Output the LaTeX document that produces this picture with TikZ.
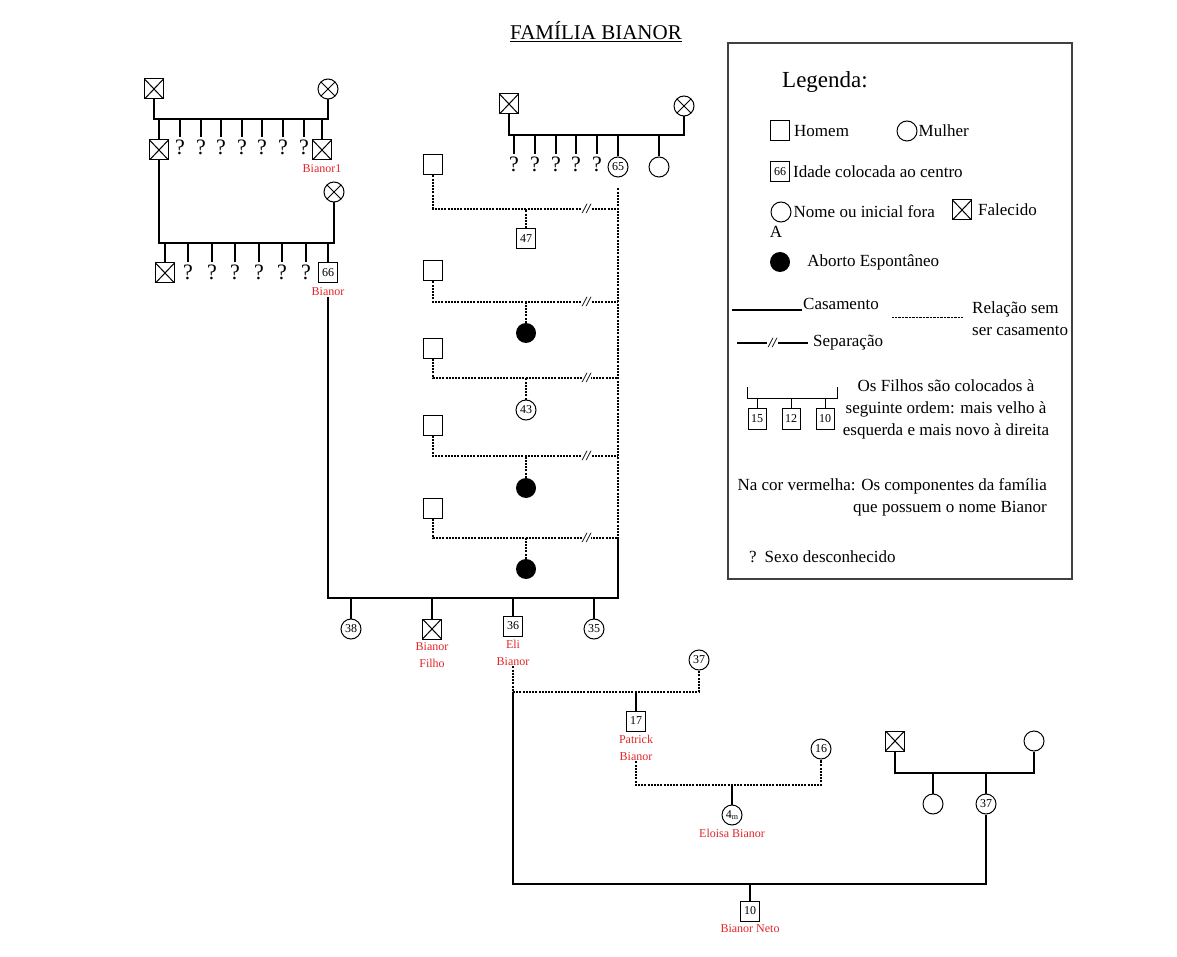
\documentclass[tikz,border=0pt]{standalone}
\usepackage{fontspec}
\setmainfont{Liberation Serif}
\usetikzlibrary{positioning,calc}
\definecolor{nomered}{RGB}{226,38,42}
\tikzset{
  homem/.style={draw,line width=1pt,minimum width=19pt,minimum height=20pt,inner sep=0pt,font=\fontsize{12}{12}\selectfont},
  mulher/.style={draw,circle,line width=1pt,minimum size=20pt,inner sep=0pt,font=\fontsize{12}{12}\selectfont},
  aborto/.style={circle,fill=black,minimum size=20pt,inner sep=0pt},
  falecido/.style={path picture={\draw (path picture bounding box.north west) -- (path picture bounding box.south east) (path picture bounding box.north east) -- (path picture bounding box.south west);}},
  falecida/.style={path picture={\draw ($(path picture bounding box.center)+(45:10pt)$) -- ($(path picture bounding box.center)+(225:10pt)$) ($(path picture bounding box.center)+(135:10pt)$) -- ($(path picture bounding box.center)+(-45:10pt)$);}},
  qm/.style={font=\fontsize{22}{22}\selectfont,inner sep=3pt,anchor=north},
  nome/.style={text=nomered,font=\fontsize{12}{17}\selectfont,align=center,inner sep=1pt},
  lig/.style={line width=1.2pt},
  rel/.style={line width=1.2pt,dash pattern=on 2pt off 1.2pt},
  sepmark/.style={fill=white,inner sep=0.8pt,font=\bfseries\itshape\fontsize{14}{14}\selectfont},
  leg/.style={font=\fontsize{17}{22}\selectfont,inner sep=1pt}
}
\begin{document}
\begin{tikzpicture}[x=1pt,y=-1pt]
\useasboundingbox (0,0) rectangle (1177,957);
\fill[white] (0,0) rectangle (1177,957);
% ---- title ----
\node[font=\fontsize{21}{21}\selectfont] (titulo) at (596,32) {\underline{FAMÍLIA BIANOR}};
% ---- bisavos (top left) ----
\node[homem,falecido] (bh) at (154,89) {};
\node[mulher,falecida] (bw) at (328,89) {};
\coordinate (bm) at (240,119);
\draw[lig] (bh) |- (bm) -| (bw);
\node[homem,falecido] (a1) at (159,150) {};
\foreach \xx [count=\i] in {180,201,221,242,262,283,304} {
  \node[qm] (aq\i) at (\xx,137) {?};
  \draw[lig] (aq\i) -- (aq\i |- bm);
}
\node[homem,falecido] (b1) at (322,150) {};
\node[nome,below=3pt of b1] (b1n) {Bianor1};
\draw[lig] (a1) -- (a1 |- bm) (b1) -- (b1 |- bm);
% ---- avos (second row) ----
\node[mulher,falecida] (cw) at (334,192) {};
\coordinate (cm) at (246,243);
\draw[lig] (a1) |- (cm) -| (cw);
\node[homem,falecido] (c1) at (165,273) {};
\foreach \xx [count=\i] in {188,212,235,259,282,306} {
  \node[qm] (cq\i) at (\xx,262) {?};
  \draw[lig] (cq\i) -- (cq\i |- cm);
}
\node[homem] (bianor) at (328,273) {66};
\node[nome,below=3pt of bianor] (bianorn) {Bianor};
\draw[lig] (c1) -- (c1 |- cm) (bianor) -- (bianor |- cm);
% ---- family of the mother ----
\node[homem,falecido] (dh) at (509,104) {};
\node[mulher,falecida] (dw) at (684,106) {};
\coordinate (dm) at (596,135);
\draw[lig] (dh) |- (dm) -| (dw);
\foreach \xx [count=\i] in {514,535,556,576,597} {
  \node[qm] (dq\i) at (\xx,154) {?};
  \draw[lig] (dq\i) -- (dq\i |- dm);
}
\node[mulher] (avo) at (618,167) {65};
\node[mulher] (dd) at (659,167) {};
\draw[lig] (avo) -- (avo |- dm) (dd) -- (dd |- dm);
% ---- relations without marriage ----
\foreach \yy/\rr [count=\i] in {165/209,271/302,348/378,425/456,508/538} {
  \node[homem] (p\i) at (433,\yy) {};
  \coordinate (r\i) at (618,\rr);
  \draw[rel] (p\i) |- (r\i) node[sepmark,pos=0.915] {//};
}
\node[homem] (f1) at (526,239) {47};
\node[aborto] (f2) at (526,333) {};
\node[mulher] (f3) at (526,410) {43};
\node[aborto] (f4) at (526,488) {};
\node[aborto] (f5) at (526,569) {};
\foreach \i in {1,...,5} \draw[rel] (f\i) -- (f\i |- r\i);
\draw[rel] ($(avo.south)+(0,11)$) -- (r5);
% ---- Bianor's children ----
\coordinate (em) at (618,598);
\draw[lig] (bianorn) |- (em) -- (r5);
\node[mulher] (g1) at (351,629) {38};
\node[homem,falecido] (g2) at (432,629) {};
\node[nome,below=2pt of g2] (g2n) {Bianor\\Filho};
\node[homem] (eli) at (513,626) {36};
\node[nome,below=2pt of eli] (elin) {Eli\\Bianor};
\node[mulher] (g4) at (594,629) {35};
\foreach \n in {g1,g2,eli,g4} \draw[lig] (\n) -- (\n |- em);
% ---- Eli and Patrick ----
\node[mulher] (pm) at (699,660) {37};
\coordinate (hm) at (636,692);
\draw[rel] (elin) |- (hm) -| (pm);
\node[homem] (patrick) at (636,721) {17};
\node[nome,below=2pt of patrick] (patrickn) {Patrick\\Bianor};
\draw[lig] (patrick) -- (hm);
\node[mulher] (mae) at (821,749) {16};
\coordinate (km) at (732,785);
\draw[rel] (patrickn) |- (km) -| (mae);
\node[mulher] (eloisa) at (732,815) {4\raisebox{-1.5pt}{\fontsize{8}{8}\selectfont m}};
\node[nome,below=2pt of eloisa] (eloisan) {Eloisa Bianor};
\draw[lig] (eloisa) -- (km);
% ---- second wife and Bianor Neto ----
\node[homem,falecido] (sh) at (895,741) {};
\node[mulher] (sw) at (1034,741) {};
\coordinate (sm) at (960,773);
\draw[lig] (sh) |- (sm) -| (sw);
\node[mulher] (s1) at (933,804) {};
\node[mulher] (nora) at (986,804) {37};
\draw[lig] (s1) -- (s1 |- sm) (nora) -- (nora |- sm);
\coordinate (nm) at (750,884);
\draw[lig] (elin |- hm) |- (nm) -| (nora);
\node[homem] (neto) at (750,911) {10};
\node[nome,below=2pt of neto] (neton) {Bianor Neto};
\draw[lig] (neto) -- (nm);
% ---- legend ----
\draw[line width=1.2pt,black!75] (728,43) rectangle (1072,579);
\node[font=\fontsize{23}{23}\selectfont] (legtit) at (825,82) {Legenda:};
\node[homem] (lh) at (780,131) {};
\node[leg,right=3pt of lh] (lht) {Homem};
\node[mulher] (lw) at (907,131) {};
\node[leg,right=0pt of lw] (lwt) {Mulher};
\node[homem] (li) at (780,172) {66};
\node[leg,right=2pt of li] (lit) {Idade colocada ao centro};
\node[mulher] (ln) at (781,212) {};
\node[leg,right=1pt of ln] (lnt) {Nome ou inicial fora};
\node[leg,below=3pt of ln,xshift=-5pt] (lna) {A};
\node[homem,falecido] (lf) at (962,210) {};
\node[leg,right=5pt of lf] (lft) {Falecido};
\node[aborto] (la) at (780,262) {};
\node[leg,right=16pt of la] (lat) {Aborto Espontâneo};
\coordinate (lc0) at (732,310);
\coordinate (lc1) at (802,310);
\draw[lig] (lc0) -- (lc1);
\node[leg,anchor=base west] (lct) at (lc1) {Casamento};
\coordinate (lr0) at (892,317);
\coordinate (lr1) at (963,317);
\draw[densely dotted] (lr0) -- (lr1);
\node[leg,align=left,anchor=north west] (lrt) at (971,301) {Relação sem\\ser casamento};
\coordinate (ls0) at (737,343);
\coordinate (ls1) at (808,343);
\draw[lig] (ls0) -- (ls1) node[sepmark,midway,inner sep=2pt] (lsm) {//};
\node[leg,anchor=base west] (lst) at (812,346) {Separação};
\draw[line width=0.8pt] (747,387) -- (747,398) -- (837,398) -- (837,387);
\foreach \xx/\ii [count=\i] in {757/15,791/12,825/10} {
  \node[homem,line width=0.8pt,minimum height=21pt,minimum width=18pt] (lk\i) at (\xx,419) {\ii};
  \draw[line width=0.8pt] (lk\i) -- (lk\i |- 0,398);
}
\node[leg,align=center] (lfil) at (946,409) {Os Filhos são colocados à\\seguinte ordem: mais velho à\\esquerda e mais novo à direita};
\node[leg,align=right,anchor=east] (lcor) at (1048,497) {Na cor vermelha: Os componentes da família\\que possuem o nome Bianor};
\node[leg,anchor=west] (lsexo) at (748,557) {?\hspace{8pt}Sexo desconhecido};
\end{tikzpicture}
\end{document}
